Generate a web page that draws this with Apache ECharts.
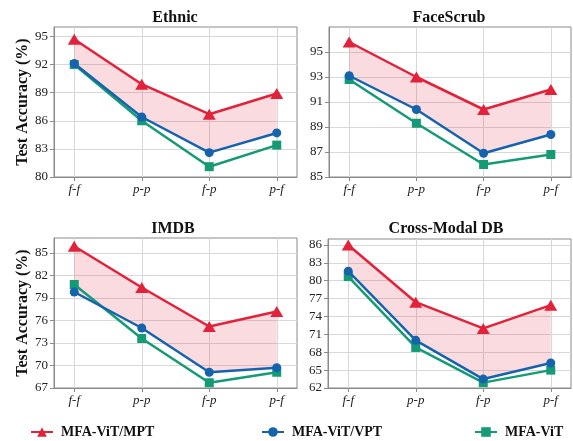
<!DOCTYPE html>
<html><head><meta charset="utf-8">
<script src="https://cdn.jsdelivr.net/npm/echarts@6/dist/echarts.min.js"></script>
<style>html,body{margin:0;padding:0;background:#fff}#c{width:573px;height:441px}</style>
</head><body><div id="c"></div>
<script>
const categories = ['f-f', 'p-p', 'f-p', 'p-f'];
const panelTitles = ['Ethnic', 'FaceScrub', 'IMDB', 'Cross-Modal DB'];
const seriesNames = ['MFA-ViT/MPT', 'MFA-ViT/VPT', 'MFA-ViT'];

const ethnicMPT = [94.7, 89.9, 86.7, 88.9];
const ethnicVPT = [92.1, 86.4, 82.6, 84.7];
const ethnicViT = [92.0, 86.0, 81.1, 83.4];

const faceMPT = [95.8, 93.0, 90.4, 92.0];
const faceVPT = [93.1, 90.4, 86.9, 88.4];
const faceViT = [92.8, 89.3, 86.0, 86.8];

const imdbMPT = [85.9, 80.4, 75.2, 77.2];
const imdbVPT = [79.8, 75.0, 69.1, 69.7];
const imdbViT = [80.8, 73.6, 67.7, 69.1];

const cmMPT = [86.0, 76.4, 72.0, 75.9];
const cmVPT = [81.6, 70.0, 63.5, 66.2];
const cmViT = [80.7, 68.8, 62.9, 65.0];

const ethnicTicks = [80, 83, 86, 89, 92, 95];
const faceTicks = [85, 87, 89, 91, 93, 95];
const imdbTicks = [67, 70, 73, 76, 79, 82, 85];
const cmTicks = [62, 65, 68, 71, 74, 77, 80, 83, 86];

const yMin = [80, 85, 67, 62];
const yMax = [96, 97, 87, 87];
const yStep = [3, 2, 3, 3];

const panels = [
  {mpt: ethnicMPT, vpt: ethnicVPT, vit: ethnicViT, ticks: ethnicTicks},
  {mpt: faceMPT, vpt: faceVPT, vit: faceViT, ticks: faceTicks},
  {mpt: imdbMPT, vpt: imdbVPT, vit: imdbViT, ticks: imdbTicks},
  {mpt: cmMPT, vpt: cmVPT, vit: cmViT, ticks: cmTicks}
];

const RED = '#E2223B', BLUE = '#1563AD', GREEN = '#149A74';
const SERIF = '"Liberation Serif", "Times New Roman", serif';
const gridBoxes = [
  {left: 54, top: 27, width: 243, height: 150},
  {left: 329, top: 27, width: 242, height: 150},
  {left: 54, top: 238, width: 243, height: 150},
  {left: 328, top: 239, width: 243, height: 149}
];
const titlePos = [[175, 10], [449, 10], [173, 221], [446, 221]];

const idx = categories.map((c, i) => i);
const pts = arr => arr.map((v, i) => [i, v]);

const grid = gridBoxes.map(b => Object.assign({
  show: true, borderColor: '#8a8a8a', borderWidth: 1, backgroundColor: 'transparent'
}, b));

const xAxis = panels.map((p, k) => ({
  type: 'value', gridIndex: k, min: -0.3, max: 3.3,
  axisLine: {show: true, onZero: false, lineStyle: {color: '#8a8a8a', width: 1}},
  axisTick: {show: true, length: 4, lineStyle: {color: '#8a8a8a'}, customValues: idx},
  axisLabel: {
    customValues: idx, margin: 6,
    formatter: v => categories[Math.round(v)],
    fontFamily: SERIF, fontStyle: 'italic', fontSize: 13, color: '#222'
  },
  splitLine: {show: true, lineStyle: {color: '#d8d8d8', width: 1}}
}));

const yAxis = panels.map((p, k) => ({
  type: 'value', gridIndex: k, min: yMin[k], max: yMax[k], interval: yStep[k],
  name: (k % 2 === 0) ? 'Test Accuracy (%)' : '',
  nameLocation: 'middle', nameGap: 23,
  nameTextStyle: {fontFamily: SERIF, fontWeight: 'bold', fontSize: 16, color: '#111'},
  axisLine: {show: true, onZero: false, lineStyle: {color: '#8a8a8a', width: 1}},
  axisTick: {show: true, length: 4, lineStyle: {color: '#8a8a8a'}, customValues: p.ticks},
  axisLabel: {customValues: p.ticks, margin: 6, fontFamily: SERIF, fontSize: 13, color: '#222'},
  splitLine: {show: true, lineStyle: {color: '#d8d8d8', width: 1}}
}));

const series = [];
panels.forEach((p, k) => {
  series.push({
    type: 'custom', xAxisIndex: k, yAxisIndex: k, silent: true, z: 1,
    data: [[0, p.vpt[0]]],
    renderItem: (params, api) => {
      const upper = p.mpt.map((v, i) => api.coord([i, v]));
      const lower = p.vpt.map((v, i) => api.coord([i, v])).reverse();
      return {type: 'polygon', shape: {points: upper.concat(lower)},
        style: {fill: 'rgba(226,34,59,0.16)'}};
    }
  });
  series.push({
    name: seriesNames[2], type: 'line', xAxisIndex: k, yAxisIndex: k,
    data: pts(p.vit), symbol: 'rect', symbolSize: 9,
    lineStyle: {color: GREEN, width: 2.5}, itemStyle: {color: GREEN}, z: 3
  });
  series.push({
    name: seriesNames[1], type: 'line', xAxisIndex: k, yAxisIndex: k,
    data: pts(p.vpt), symbol: 'circle', symbolSize: 9,
    lineStyle: {color: BLUE, width: 2.5}, itemStyle: {color: BLUE}, z: 4
  });
  series.push({
    name: seriesNames[0], type: 'line', xAxisIndex: k, yAxisIndex: k,
    data: pts(p.mpt), symbol: 'triangle', symbolSize: [13, 11],
    lineStyle: {color: RED, width: 2.5}, itemStyle: {color: RED}, z: 5
  });
});

const legendLeft = [30, 261, 474];
const legend = seriesNames.map((n, i) => ({
  data: [n], left: legendLeft[i], top: 425, itemWidth: 22, itemHeight: 12, itemGap: 0,
  padding: 0, selectedMode: false,
  textStyle: {fontFamily: SERIF, fontWeight: 'bold', fontSize: 14, color: '#111', padding: [0, 0, 0, 3]}
}));

const title = panelTitles.map((t, i) => ({
  text: t, left: titlePos[i][0], top: titlePos[i][1], textAlign: 'center', padding: 0,
  textStyle: {fontFamily: SERIF, fontWeight: 'bold', fontSize: 16, color: '#111'}
}));

const chart = echarts.init(document.getElementById('c'), null, {renderer: 'canvas'});
chart.setOption({
  animation: false, backgroundColor: '#fff',
  title, legend, grid, xAxis, yAxis, series
});
</script>
</body></html>
